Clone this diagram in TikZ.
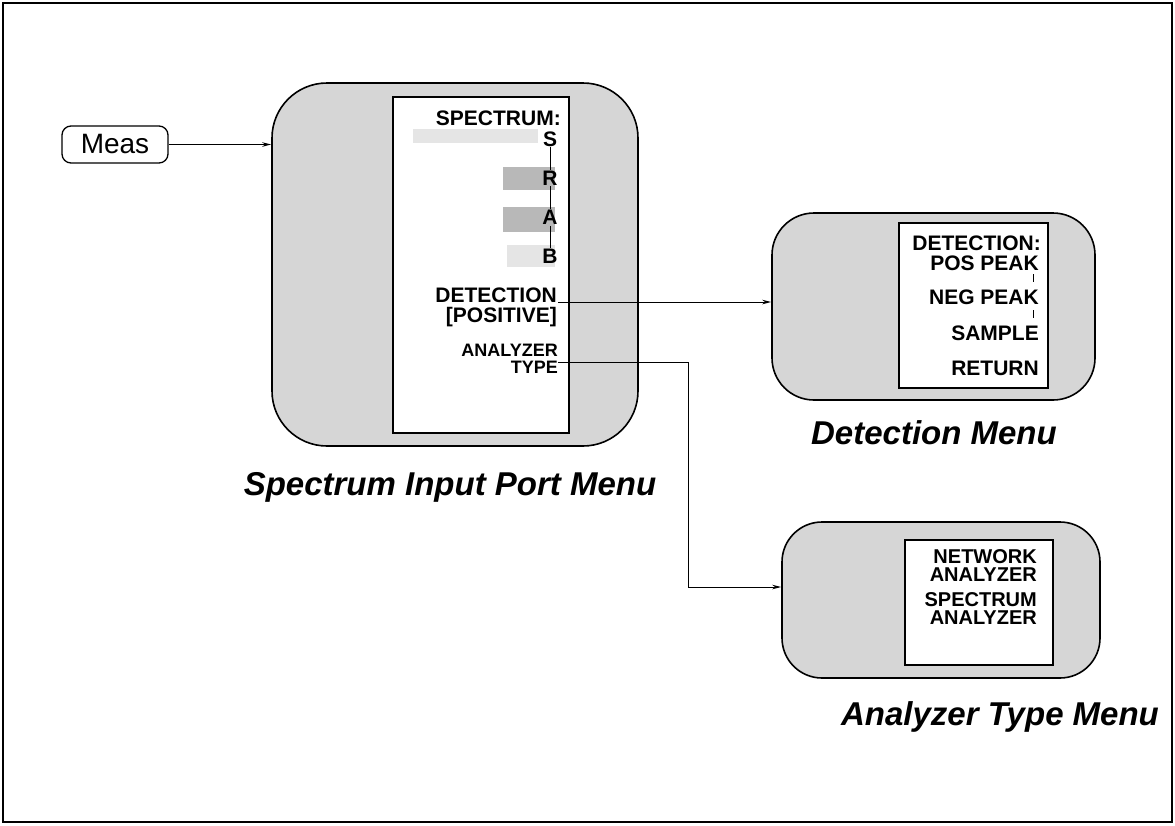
\documentclass[tikz,border=0pt]{standalone}
\usepackage{fontspec}
\setmainfont{Liberation Sans}
\usetikzlibrary{arrows.meta}
\definecolor{boxfill}{gray}{0.84}
\definecolor{patchdark}{gray}{0.72}
\definecolor{patchlight}{gray}{0.90}
\tikzset{
  menubox/.style={draw=black, line width=1.6pt, fill=boxfill, inner sep=0pt},
  screen/.style={draw=black, line width=1.3pt, fill=white, inner sep=0pt},
  item/.style={font=\fontsize{21}{21}\selectfont\bfseries, inner sep=1pt, anchor=east, align=right},
  letter/.style={font=\fontsize{21}{21}\selectfont\bfseries, inner sep=1pt},
  title/.style={font=\fontsize{33}{33}\selectfont\bfseries\itshape, inner sep=0pt},
  conn/.style={line width=1pt, -{Stealth[length=9pt,width=4.5pt]}},
  tick/.style={line width=0.8pt},
  patch/.style={draw=none, inner sep=0pt}
}
\begin{document}
\begin{tikzpicture}[x=1pt,y=-1pt]
\useasboundingbox (0,0) rectangle (1175,825);
% outer frame
\draw[line width=1.8pt] (3,3) rectangle (1172,822);

% Meas key
\node[draw, line width=1.3pt, rounded corners=9pt, minimum width=106pt, minimum height=37pt,
      font=\fontsize{28}{28}\selectfont, inner sep=0pt] (meas) at (115,144.5) {Meas};

% Spectrum input port menu
\node[menubox, rounded corners=55pt, minimum width=366pt, minimum height=363pt] (spm) at (455,264.5) {};
\node[screen, minimum width=176pt, minimum height=336pt] (spmscr) at (481,265) {};
\node[patch, fill=patchlight, minimum width=125pt, minimum height=14pt] (pS) at (475,136) {};
\node[patch, fill=patchdark, minimum width=52pt, minimum height=23pt] (pR) at (529,178.5) {};
\node[patch, fill=patchdark, minimum width=52pt, minimum height=25pt] (pA) at (529,219.5) {};
\node[patch, fill=patchlight, minimum width=48pt, minimum height=22pt] (pB) at (531,256) {};
\node[item, inner sep=0pt] (spec) at (561,118) {SPECTRUM:};
\node[letter, inner sep=0pt] (lS) at (550,139) {S};
\node[letter] (lR) at (550,178) {R};
\node[letter] (lA) at (550,217.5) {A};
\node[letter] (lB) at (550,256) {B};
\draw[tick] (lS.south) -- (lR.north);
\draw[tick] (lR.south) -- (lA.north);
\draw[tick] (lA.south) -- (lB.north);
\node[item, font=\fontsize{21}{20}\selectfont\bfseries] (det) at (558,307) {DETECTION\\{[}POSITIVE{]}};
\node[item, inner sep=0pt, font=\fontsize{18}{17}\selectfont\bfseries] (ana) at (558,359) {ANALYZER\\TYPE};
\node[title] (spmlbl) at (450,487) {Spectrum Input Port Menu};

% Detection menu
\node[menubox, rounded corners=42pt, minimum width=323pt, minimum height=187pt] (detbox) at (933.5,306.5) {};
\node[screen, minimum width=149pt, minimum height=165pt] (detscr) at (973.5,305.5) {};
\node[item] (d1) at (1042,243) {DETECTION:};
\node[item] (d2) at (1040,263) {POS PEAK};
\node[item] (d3) at (1040,297) {NEG PEAK};
\node[item] (d4) at (1040,333) {SAMPLE};
\node[item] (d5) at (1040,368) {RETURN};
\draw[tick] (1033,274) -- (1033,282);
\draw[tick] (1033,310) -- (1033,318);
\node[title] (detlbl) at (934,433) {Detection Menu};

% Analyzer type menu
\node[menubox, rounded corners=40pt, minimum width=318pt, minimum height=156pt] (anabox) at (941,600) {};
\node[screen, minimum width=148pt, minimum height=125pt] (anascr) at (979,602.5) {};
\node[item, font=\fontsize{20}{18}\selectfont\bfseries] (a1) at (1038,566) {NETWORK\\ANALYZER};
\node[item, font=\fontsize{20}{18}\selectfont\bfseries] (a2) at (1038,609) {SPECTRUM\\ANALYZER};
\node[title] (analbl) at (1000,717) {Analyzer Type Menu};

% connectors
\draw[conn] (meas.east) -- (meas.east -| spm.west);
\coordinate (detstart) at ([yshift=5pt]det.east);
\draw[conn] (detstart) -- (detstart -| detbox.west);
\coordinate (anastart) at ([yshift=-3pt]ana.east);
\coordinate (bend) at (688,0);
\coordinate (anaend) at ([yshift=13pt]anabox.west);
\draw[conn] (anastart) -- (anastart -| bend) |- (anaend);
\end{tikzpicture}
\end{document}
